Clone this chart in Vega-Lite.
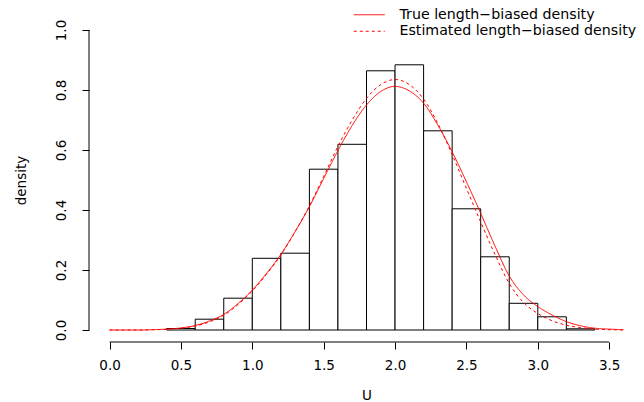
{
  "$schema": "https://vega.github.io/schema/vega-lite/v6.json",
  "width": 555,
  "height": 324,
  "autosize": {"type": "none"},
  "padding": {"left": 89, "top": 18, "right": 0, "bottom": 60},
  "background": "white",
  "config": {
    "view": {"stroke": null},
    "font": "DejaVu Sans",
    "axis": {"labelFont": "DejaVu Sans", "titleFont": "DejaVu Sans", "labelColor": "black", "titleColor": "black", "tickColor": "black", "grid": false, "domain": false, "titleFontWeight": "normal"},
    "legend": {"labelFont": "DejaVu Sans"}
  },
  "datasets": {
    "hist": [
      {"lo": 0.4, "hi": 0.6, "density": 0.005},
      {"lo": 0.6, "hi": 0.8, "density": 0.036},
      {"lo": 0.8, "hi": 1.0, "density": 0.106},
      {"lo": 1.0, "hi": 1.2, "density": 0.239},
      {"lo": 1.2, "hi": 1.4, "density": 0.256},
      {"lo": 1.4, "hi": 1.6, "density": 0.536},
      {"lo": 1.6, "hi": 1.8, "density": 0.619},
      {"lo": 1.8, "hi": 2.0, "density": 0.864},
      {"lo": 2.0, "hi": 2.2, "density": 0.884},
      {"lo": 2.2, "hi": 2.4, "density": 0.664},
      {"lo": 2.4, "hi": 2.6, "density": 0.404},
      {"lo": 2.6, "hi": 2.8, "density": 0.244},
      {"lo": 2.8, "hi": 3.0, "density": 0.089},
      {"lo": 3.0, "hi": 3.2, "density": 0.044},
      {"lo": 3.2, "hi": 3.4, "density": 0.004}
    ],
    "curves": [
      {"u": 0.0, "f": 0.000, "series": "True length−biased density"},
      {"u": 0.1, "f": 0.000, "series": "True length−biased density"},
      {"u": 0.2, "f": 0.000, "series": "True length−biased density"},
      {"u": 0.3, "f": 0.001, "series": "True length−biased density"},
      {"u": 0.4, "f": 0.003, "series": "True length−biased density"},
      {"u": 0.5, "f": 0.007, "series": "True length−biased density"},
      {"u": 0.6, "f": 0.015, "series": "True length−biased density"},
      {"u": 0.7, "f": 0.030, "series": "True length−biased density"},
      {"u": 0.8, "f": 0.052, "series": "True length−biased density"},
      {"u": 0.9, "f": 0.088, "series": "True length−biased density"},
      {"u": 1.0, "f": 0.133, "series": "True length−biased density"},
      {"u": 1.1, "f": 0.189, "series": "True length−biased density"},
      {"u": 1.2, "f": 0.252, "series": "True length−biased density"},
      {"u": 1.3, "f": 0.328, "series": "True length−biased density"},
      {"u": 1.4, "f": 0.411, "series": "True length−biased density"},
      {"u": 1.5, "f": 0.505, "series": "True length−biased density"},
      {"u": 1.6, "f": 0.598, "series": "True length−biased density"},
      {"u": 1.7, "f": 0.682, "series": "True length−biased density"},
      {"u": 1.8, "f": 0.750, "series": "True length−biased density"},
      {"u": 1.9, "f": 0.795, "series": "True length−biased density"},
      {"u": 2.0, "f": 0.812, "series": "True length−biased density"},
      {"u": 2.1, "f": 0.797, "series": "True length−biased density"},
      {"u": 2.2, "f": 0.756, "series": "True length−biased density"},
      {"u": 2.3, "f": 0.683, "series": "True length−biased density"},
      {"u": 2.4, "f": 0.594, "series": "True length−biased density"},
      {"u": 2.5, "f": 0.494, "series": "True length−biased density"},
      {"u": 2.6, "f": 0.389, "series": "True length−biased density"},
      {"u": 2.7, "f": 0.280, "series": "True length−biased density"},
      {"u": 2.8, "f": 0.180, "series": "True length−biased density"},
      {"u": 2.9, "f": 0.117, "series": "True length−biased density"},
      {"u": 3.0, "f": 0.078, "series": "True length−biased density"},
      {"u": 3.1, "f": 0.050, "series": "True length−biased density"},
      {"u": 3.2, "f": 0.028, "series": "True length−biased density"},
      {"u": 3.3, "f": 0.014, "series": "True length−biased density"},
      {"u": 3.4, "f": 0.006, "series": "True length−biased density"},
      {"u": 3.5, "f": 0.003, "series": "True length−biased density"},
      {"u": 3.6, "f": 0.001, "series": "True length−biased density"},
      {"u": 0.0, "f": 0.000, "series": "Estimated length−biased density"},
      {"u": 0.1, "f": 0.000, "series": "Estimated length−biased density"},
      {"u": 0.2, "f": 0.000, "series": "Estimated length−biased density"},
      {"u": 0.3, "f": 0.001, "series": "Estimated length−biased density"},
      {"u": 0.4, "f": 0.002, "series": "Estimated length−biased density"},
      {"u": 0.5, "f": 0.006, "series": "Estimated length−biased density"},
      {"u": 0.6, "f": 0.013, "series": "Estimated length−biased density"},
      {"u": 0.7, "f": 0.027, "series": "Estimated length−biased density"},
      {"u": 0.8, "f": 0.049, "series": "Estimated length−biased density"},
      {"u": 0.9, "f": 0.085, "series": "Estimated length−biased density"},
      {"u": 1.0, "f": 0.130, "series": "Estimated length−biased density"},
      {"u": 1.1, "f": 0.186, "series": "Estimated length−biased density"},
      {"u": 1.2, "f": 0.250, "series": "Estimated length−biased density"},
      {"u": 1.3, "f": 0.328, "series": "Estimated length−biased density"},
      {"u": 1.4, "f": 0.414, "series": "Estimated length−biased density"},
      {"u": 1.5, "f": 0.512, "series": "Estimated length−biased density"},
      {"u": 1.6, "f": 0.612, "series": "Estimated length−biased density"},
      {"u": 1.7, "f": 0.700, "series": "Estimated length−biased density"},
      {"u": 1.8, "f": 0.772, "series": "Estimated length−biased density"},
      {"u": 1.9, "f": 0.818, "series": "Estimated length−biased density"},
      {"u": 2.0, "f": 0.835, "series": "Estimated length−biased density"},
      {"u": 2.1, "f": 0.818, "series": "Estimated length−biased density"},
      {"u": 2.2, "f": 0.770, "series": "Estimated length−biased density"},
      {"u": 2.3, "f": 0.688, "series": "Estimated length−biased density"},
      {"u": 2.4, "f": 0.585, "series": "Estimated length−biased density"},
      {"u": 2.5, "f": 0.472, "series": "Estimated length−biased density"},
      {"u": 2.6, "f": 0.360, "series": "Estimated length−biased density"},
      {"u": 2.7, "f": 0.252, "series": "Estimated length−biased density"},
      {"u": 2.8, "f": 0.155, "series": "Estimated length−biased density"},
      {"u": 2.9, "f": 0.092, "series": "Estimated length−biased density"},
      {"u": 3.0, "f": 0.055, "series": "Estimated length−biased density"},
      {"u": 3.1, "f": 0.031, "series": "Estimated length−biased density"},
      {"u": 3.2, "f": 0.016, "series": "Estimated length−biased density"},
      {"u": 3.3, "f": 0.008, "series": "Estimated length−biased density"},
      {"u": 3.4, "f": 0.003, "series": "Estimated length−biased density"},
      {"u": 3.5, "f": 0.001, "series": "Estimated length−biased density"},
      {"u": 3.6, "f": 0.000, "series": "Estimated length−biased density"}
    ]
  },
  "layer": [
    {
      "data": {"name": "hist"},
      "mark": {"type": "rect", "fill": "white", "stroke": "black", "strokeWidth": 1},
      "encoding": {
        "x": {"field": "lo", "type": "quantitative", "scale": {"domain": [-0.144, 3.744], "nice": false, "zero": false},
              "axis": {"values": [0, 0.5, 1, 1.5, 2, 2.5, 3, 3.5], "format": ".1f", "tickSize": 7, "labelFontSize": 13.5, "labelPadding": 9, "title": "U", "titleFontSize": 13.5, "titlePadding": 17, "labelFlush": false}},
        "x2": {"field": "hi"},
        "y": {"field": "density", "type": "quantitative", "scale": {"domain": [-0.04, 1.04], "nice": false, "zero": false},
              "axis": {"values": [0, 0.2, 0.4, 0.6, 0.8, 1.0], "format": ".1f", "tickSize": 7, "labelFontSize": 13.5, "labelAngle": 270, "labelPadding": 14, "title": "density", "titleFontSize": 13.5, "titlePadding": 26, "labelFlush": false}},
        "y2": {"datum": 0}
      }
    },
    {
      "data": {"name": "curves"},
      "mark": {"type": "line", "strokeWidth": 1, "interpolate": "monotone"},
      "encoding": {
        "x": {"field": "u", "type": "quantitative"},
        "y": {"field": "f", "type": "quantitative"},
        "color": {
          "field": "series", "type": "nominal",
          "scale": {"domain": ["True length−biased density", "Estimated length−biased density"], "range": ["red", "red"]},
          "legend": {"title": null, "orient": "none", "legendX": 271.75, "legendY": -11.75, "symbolType": "M-2,0H2", "symbolStrokeWidth": 1, "symbolSize": 240, "labelFontSize": 14.2, "labelColor": "black", "rowPadding": 0.5, "labelOffset": 21.75, "labelLimit": 0}
        },
        "strokeDash": {
          "field": "series", "type": "nominal",
          "scale": {"domain": ["True length−biased density", "Estimated length−biased density"], "range": [[1, 0], [3, 3]]},
          "legend": {"title": null, "orient": "none", "legendX": 271.75, "legendY": -11.75, "symbolType": "M-2,0H2", "symbolStrokeWidth": 1, "symbolSize": 240, "labelFontSize": 14.2, "labelColor": "black", "rowPadding": 0.5, "labelOffset": 21.75, "labelLimit": 0}
        }
      }
    },
    {
      "data": {"values": [{}]},
      "mark": {"type": "rule", "color": "black", "strokeWidth": 1},
      "encoding": {"x": {"datum": 0}, "x2": {"datum": 3.5}, "y": {"datum": -0.04}}
    },
    {
      "data": {"values": [{}]},
      "mark": {"type": "rule", "color": "black", "strokeWidth": 1},
      "encoding": {"x": {"datum": -0.144}, "y": {"datum": 0}, "y2": {"datum": 1}}
    }
  ]
}
